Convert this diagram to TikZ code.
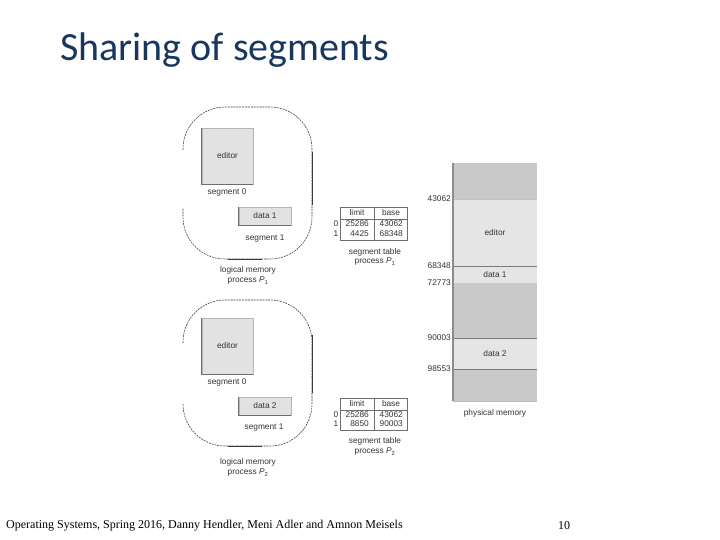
\documentclass[tikz,border=0pt]{standalone}
\usepackage{fontspec}
\usepackage{tikz}
\usepackage{xcolor}
\usetikzlibrary{positioning}
\setmainfont{Liberation Sans}
\newfontfamily\titlefont{Carlito}
\newfontfamily\footfont{Liberation Serif}
\definecolor{titleblue}{HTML}{17375E}
\definecolor{figink}{HTML}{333333}
\definecolor{boxfill}{HTML}{E2E2E2}
\definecolor{boxedge}{HTML}{6E6E6E}
\definecolor{memdark}{HTML}{C9C9C9}
\definecolor{memlight}{HTML}{E5E5E5}
\definecolor{memline}{HTML}{7A7A7A}
\definecolor{memedge}{HTML}{8C8C8C}
\definecolor{outline}{HTML}{3A3A3A}
\newcommand{\figfont}{\fontsize{8.3}{9}\selectfont}
\newcommand{\procP}[1]{\textit{P}\textsubscript{#1}}
\tikzset{
  segbox/.style={draw=boxedge!50,fill=boxfill,line width=0.5pt,inner sep=0pt,
                 font=\figfont,text=figink},
  segedge/.style={draw=boxedge,line width=0.8pt},
  figlabel/.style={font=\figfont,text=figink,inner sep=0pt,align=center},
  hcell/.style={draw=boxedge,line width=0.5pt,minimum height=12,inner sep=0pt,
                font=\figfont,text=figink},
  bcell/.style={draw=boxedge,line width=0.5pt,minimum height=21,inner sep=0pt},
  memblock/.style={minimum width=84,inner sep=0pt,outer sep=0pt,draw=none,
                   font=\figfont,text=figink},
  dashline/.style={draw=outline,line width=0.55pt,dash pattern=on 2pt off 0.9pt},
  solidline/.style={draw=outline,line width=0.7pt}
}
\begin{document}
\begin{tikzpicture}[x=1pt,y=-1pt]
  \fill[white] (0,0) rectangle (720,540);
  \useasboundingbox (0,0) rectangle (720,540);
  % title
  \node[anchor=base west,inner sep=0pt,font=\titlefont\fontsize{40}{44}\selectfont,
        text=titleblue] (title) at (60,61) {Sharing of segments};

  % logical memory, process P1
  \draw[dashline,rounded corners=42] (183,150) -- (183,107) -- (312,107)
      -- (312,259) -- (183,259) -- (183,208);
  \draw[solidline] (312,152) -- (312,205);
  \draw[solidline] (228,259) -- (262,259);
  \node[segbox,minimum width=51,minimum height=56] (edA) at (227.5,156) {editor};
  \draw[segedge] (edA.north west) -- (edA.south west) -- (edA.south east);
  \node[figlabel] (segA0) at (227,192) {segment 0};
  \node[segbox,minimum width=52,minimum height=18] (dataA) at (265,216) {data 1};
  \draw[segedge] (dataA.north west) -- (dataA.south west) -- (dataA.south east);
  \node[figlabel] (segA1) at (265,239) {segment 1};
  \node[figlabel] (logA) at (248,270) {logical memory};
  \node[figlabel] (procA) at (248,281) {process \procP{1}};

  % segment table, process P1
  \node[hcell,minimum width=34] (limA) at (357,213) {limit};
  \node[hcell,minimum width=33,right=0pt of limA] (basA) {base};
  \node[bcell,minimum width=34,below=0pt of limA] (limAb) {};
  \node[bcell,minimum width=33,below=0pt of basA] (basAb) {};
  \node[figlabel] (rowA0) at (336,224) {0};
  \node[figlabel] (rowA1) at (336,234) {1};
  \node[figlabel,anchor=east] (limA0) at (369,224) {25286};
  \node[figlabel,anchor=east] (limA1) at (369,234) {4425};
  \node[figlabel,anchor=east] (basA0) at (403,224) {43062};
  \node[figlabel,anchor=east] (basA1) at (403,234) {68348};
  \node[figlabel] (tabA) at (375,252) {segment table};
  \node[figlabel] (tprocA) at (375,262) {process \procP{1}};

  % logical memory, process P2
  \draw[dashline,rounded corners=42] (183,343) -- (183,300) -- (312,300)
      -- (312,446) -- (183,446) -- (183,403);
  \draw[solidline] (312,335) -- (312,393);
  \draw[solidline] (228,446) -- (262,446);
  \node[segbox,minimum width=51,minimum height=56] (edB) at (227.5,346) {editor};
  \draw[segedge] (edB.north west) -- (edB.south west) -- (edB.south east);
  \node[figlabel] (segB0) at (227,382) {segment 0};
  \node[segbox,minimum width=52,minimum height=18] (dataB) at (265,406) {data 2};
  \draw[segedge] (dataB.north west) -- (dataB.south west) -- (dataB.south east);
  \node[figlabel] (segB1) at (264,428) {segment 1};
  \node[figlabel] (logB) at (248,462) {logical memory};
  \node[figlabel] (procB) at (248,473) {process \procP{2}};

  % segment table, process P2
  \node[hcell,minimum width=34] (limB) at (357,404) {limit};
  \node[hcell,minimum width=33,right=0pt of limB] (basB) {base};
  \node[bcell,minimum width=34,minimum height=20,below=0pt of limB] (limBb) {};
  \node[bcell,minimum width=33,minimum height=20,below=0pt of basB] (basBb) {};
  \node[figlabel] (rowB0) at (336,415) {0};
  \node[figlabel] (rowB1) at (336,424) {1};
  \node[figlabel,anchor=east] (limB0) at (369,415) {25286};
  \node[figlabel,anchor=east] (limB1) at (369,424) {8850};
  \node[figlabel,anchor=east] (basB0) at (403,415) {43062};
  \node[figlabel,anchor=east] (basB1) at (403,424) {90003};
  \node[figlabel] (tabB) at (375,441) {segment table};
  \node[figlabel] (tprocB) at (375,452) {process \procP{2}};

  % physical memory
  \node[memblock,fill=memdark,minimum height=36] (free0) at (495,181) {};
  \node[memblock,fill=memlight,minimum height=67] (editM) at (495,232.5) {editor};
  \node[memblock,fill=memlight,minimum height=17] (dataM1) at (495,274.5) {data 1};
  \node[memblock,fill=memdark,minimum height=55] (free1) at (495,310.5) {};
  \node[memblock,fill=memlight,minimum height=31] (dataM2) at (495,353.5) {data 2};
  \node[memblock,fill=memdark,minimum height=32] (free2) at (495,385) {};
  \draw[memline!45,line width=0.5pt] (editM.north west) -- (editM.north east);
  \draw[memline,line width=0.6pt] (dataM1.north west) -- (dataM1.north east);
  \draw[memline,line width=0.6pt] (dataM2.north west) -- (dataM2.north east);
  \draw[memline,line width=0.6pt] (free2.north west) -- (free2.north east);
  \draw[memline!50,line width=0.5pt] (free2.south west) -- (free2.south east);
  \draw[memedge,line width=1.8pt] (free0.north west) -- (free2.south west);
  \node[figlabel,left=2pt of editM.north west] (adr1) {43062};
  \node[figlabel,left=2pt of dataM1.north west] (adr2) {68348};
  \node[figlabel,left=2pt of free1.north west] (adr3) {72773};
  \node[figlabel,left=2pt of dataM2.north west] (adr4) {90003};
  \node[figlabel,left=2pt of free2.north west] (adr5) {98553};
  \node[figlabel,below=8pt of free2] (physM) {physical memory};

  % footer
  \node[anchor=base west,inner sep=0pt,font=\footfont\fontsize{12}{14}\selectfont]
    (foot) at (6,528) {Operating Systems, Spring 2016, Danny Hendler, Meni Adler and Amnon Meisels};
  \node[anchor=base west,inner sep=0pt,font=\footfont\fontsize{12}{14}\selectfont]
    (pageno) at (558,529) {10};
\end{tikzpicture}
\end{document}
